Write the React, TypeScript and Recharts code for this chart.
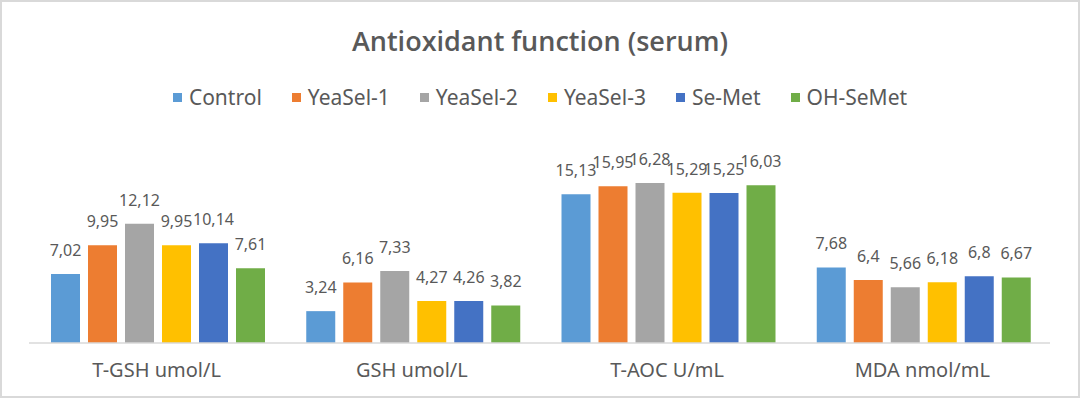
import React from "react";
import { BarChart, Bar, XAxis, YAxis, LabelList } from "recharts";

const categories = ["T-GSH umol/L", "GSH umol/L", "T-AOC U/mL", "MDA nmol/mL"];
const control = [7.02, 3.24, 15.13, 7.68];
const yeaSel1 = [9.95, 6.16, 15.95, 6.4];
const yeaSel2 = [12.12, 7.33, 16.28, 5.66];
const yeaSel3 = [9.95, 4.27, 15.29, 6.18];
const seMet = [10.14, 4.26, 15.25, 6.8];
const ohSeMet = [7.61, 3.82, 16.03, 6.67];

const seriesNames = ["Control", "YeaSel-1", "YeaSel-2", "YeaSel-3", "Se-Met", "OH-SeMet"];
const seriesValues = [control, yeaSel1, yeaSel2, yeaSel3, seMet, ohSeMet];
const seriesColors = ["#5B9BD5", "#ED7D31", "#A5A5A5", "#FFC000", "#4472C4", "#70AD47"];
const title = "Antioxidant function (serum)";

const data = categories.map((c, i) => {
  const row: Record<string, string | number> = { category: c };
  seriesNames.forEach((s, j) => {
    row[s] = seriesValues[j][i];
  });
  return row;
});

const fmt = (v: any) => String(v).replace(".", ",");
const FONT = "'Noto Sans', sans-serif";
const TEXT = "#595959";

export default function App() {
  return (
    <div
      style={{
        position: "absolute",
        left: 0,
        top: 0,
        width: 1080,
        height: 398,
        background: "#fff",
        fontFamily: FONT,
      }}
    >
      <div
        style={{
          position: "absolute",
          left: 0,
          top: 0,
          width: 1080,
          height: 398,
          boxSizing: "border-box",
          border: "2px solid #d9d9d9",
          pointerEvents: "none",
          zIndex: 2,
        }}
      />
      <div
        style={{
          position: "absolute",
          left: 0,
          top: 23,
          width: 1080,
          textAlign: "center",
          fontFamily: "'Open Sans', sans-serif",
          fontWeight: 600,
          fontSize: 27,
          lineHeight: "36px",
          color: TEXT,
        }}
      >
        {title}
      </div>
      <div
        style={{
          position: "absolute",
          left: 0,
          top: 83,
          width: 1080,
          display: "flex",
          justifyContent: "center",
          gap: 30,
          fontSize: 21,
          lineHeight: "28px",
          color: TEXT,
        }}
      >
        {seriesNames.map((s, i) => (
          <div key={s} style={{ display: "flex", alignItems: "center" }}>
            <span
              style={{
                display: "inline-block",
                width: 9,
                height: 9,
                background: seriesColors[i],
                marginRight: 7,
              }}
            />
            <span>{s}</span>
          </div>
        ))}
      </div>
      <BarChart
        width={1080}
        height={398}
        data={data}
        margin={{ top: 166, right: 30, left: 29, bottom: 0 }}
        barCategoryGap={22}
        barGap={8}
      >
        <XAxis
          dataKey="category"
          height={55}
          axisLine={{ stroke: "#d9d9d9", strokeWidth: 1.5 }}
          tickLine={false}
          tickMargin={14}
          tick={{ fill: TEXT, fontSize: 20, fontFamily: FONT }}
        />
        <YAxis hide domain={[0, 18]} />
        {seriesNames.map((s, i) => (
          <Bar key={s} dataKey={s} fill={seriesColors[i]} isAnimationActive={false}>
            <LabelList
              dataKey={s}
              position="top"
              offset={18}
              formatter={fmt}
              style={{ fill: TEXT, fontSize: 16, fontFamily: FONT }}
            />
          </Bar>
        ))}
      </BarChart>
    </div>
  );
}
